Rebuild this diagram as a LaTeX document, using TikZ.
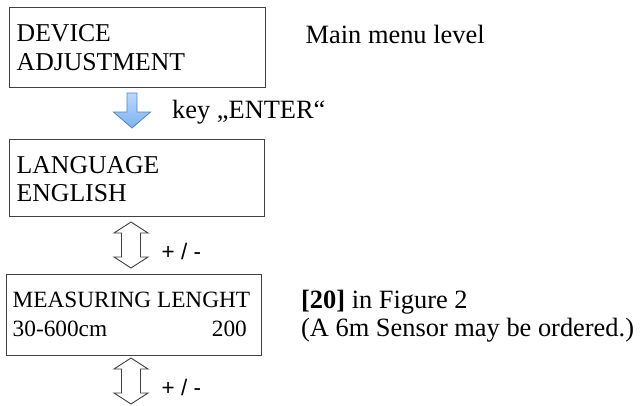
\documentclass[tikz,border=0pt]{standalone}
\usepackage{fontspec}
\setmainfont{Liberation Serif}
\newfontfamily\armsans{Liberation Sans}
\begin{document}
\begin{tikzpicture}[x=1pt,y=-1pt,
  box/.style={draw=black!75,line width=1pt,rectangle,inner sep=0pt,anchor=north west},
  bigtxt/.style={anchor=base west,inner sep=0pt,font=\fontsize{25.7}{28}\selectfont},
  sidetxt/.style={anchor=base west,inner sep=0pt,font=\fontsize{26.4}{28}\selectfont},
  smalltxt/.style={anchor=base west,inner sep=0pt,font=\fontsize{23.3}{26}\selectfont},
  pmtxt/.style={anchor=base west,inner sep=0pt,font=\armsans\fontsize{22.5}{24}\selectfont},
  blockarrow/.style={draw={rgb,255:red,80;green,130;blue,200},line width=0.8pt,line join=miter,
     top color={rgb,255:red,185;green,218;blue,255},bottom color={rgb,255:red,125;green,178;blue,240}},
  dblarrow/.style={draw=black!75,line width=0.9pt,fill=white,line join=miter}]
\useasboundingbox (0,0) rectangle (641,405);

% boxes
\node[box,minimum width=256pt,minimum height=80pt] (b1) at (9,7) {};
\node[box,minimum width=255pt,minimum height=77pt] (b2) at (9,139) {};
\node[box,minimum width=255pt,minimum height=81pt] (b3) at (6,274) {};

% box texts
\node[bigtxt] (t1a) at (16.5,41) {DEVICE};
\node[bigtxt] (t1b) at (16.5,70) {ADJUSTMENT};
\node[bigtxt] (t2a) at (16.5,173) {LANGUAGE};
\node[bigtxt] (t2b) at (16.5,201) {ENGLISH};
\node[smalltxt] (t3a) at (12.5,307) {MEASURING LENGHT};
\node[smalltxt] (t3b) at (12.5,336) {30-600cm};
\node[smalltxt,anchor=base east] (t3c) at (247,336) {200};

% side texts
\node[sidetxt] (main) at (305.5,43) {Main menu level};
\node[sidetxt] (key) at (172,118) {key ,,ENTER“};
\node[sidetxt] (fig) at (301,308) {\textbf{[20]} in Figure 2};
\node[sidetxt] (sens) at (301,336) {(A 6m Sensor may be ordered.)};
\node[pmtxt] (pm1) at (161.5,259) {+ / -};
\node[pmtxt] (pm2) at (161.5,395) {+ / -};

% blue ENTER arrow
\coordinate (ba) at (132,93);
\draw[blockarrow] ([xshift=-5pt]ba) -- ++(0,19) -- ++(-13.5,0) -- (132,128) -- (150.5,112) -- ++(-13.5,0) -- ([xshift=5pt]ba) -- cycle;

% double arrows
\coordinate (da1) at (131,222);
\draw[dblarrow] (da1) -- ++(17,11) -- ++(-7.5,0) -- ++(0,24) -- ++(7.5,0) -- ++(-17,11) -- ++(-17,-11) -- ++(7.5,0) -- ++(0,-24) -- ++(-7.5,0) -- cycle;
\coordinate (da2) at (131,358);
\draw[dblarrow] (da2) -- ++(17,11) -- ++(-7.5,0) -- ++(0,24) -- ++(7.5,0) -- ++(-17,11) -- ++(-17,-11) -- ++(7.5,0) -- ++(0,-24) -- ++(-7.5,0) -- cycle;
\end{tikzpicture}
\end{document}
